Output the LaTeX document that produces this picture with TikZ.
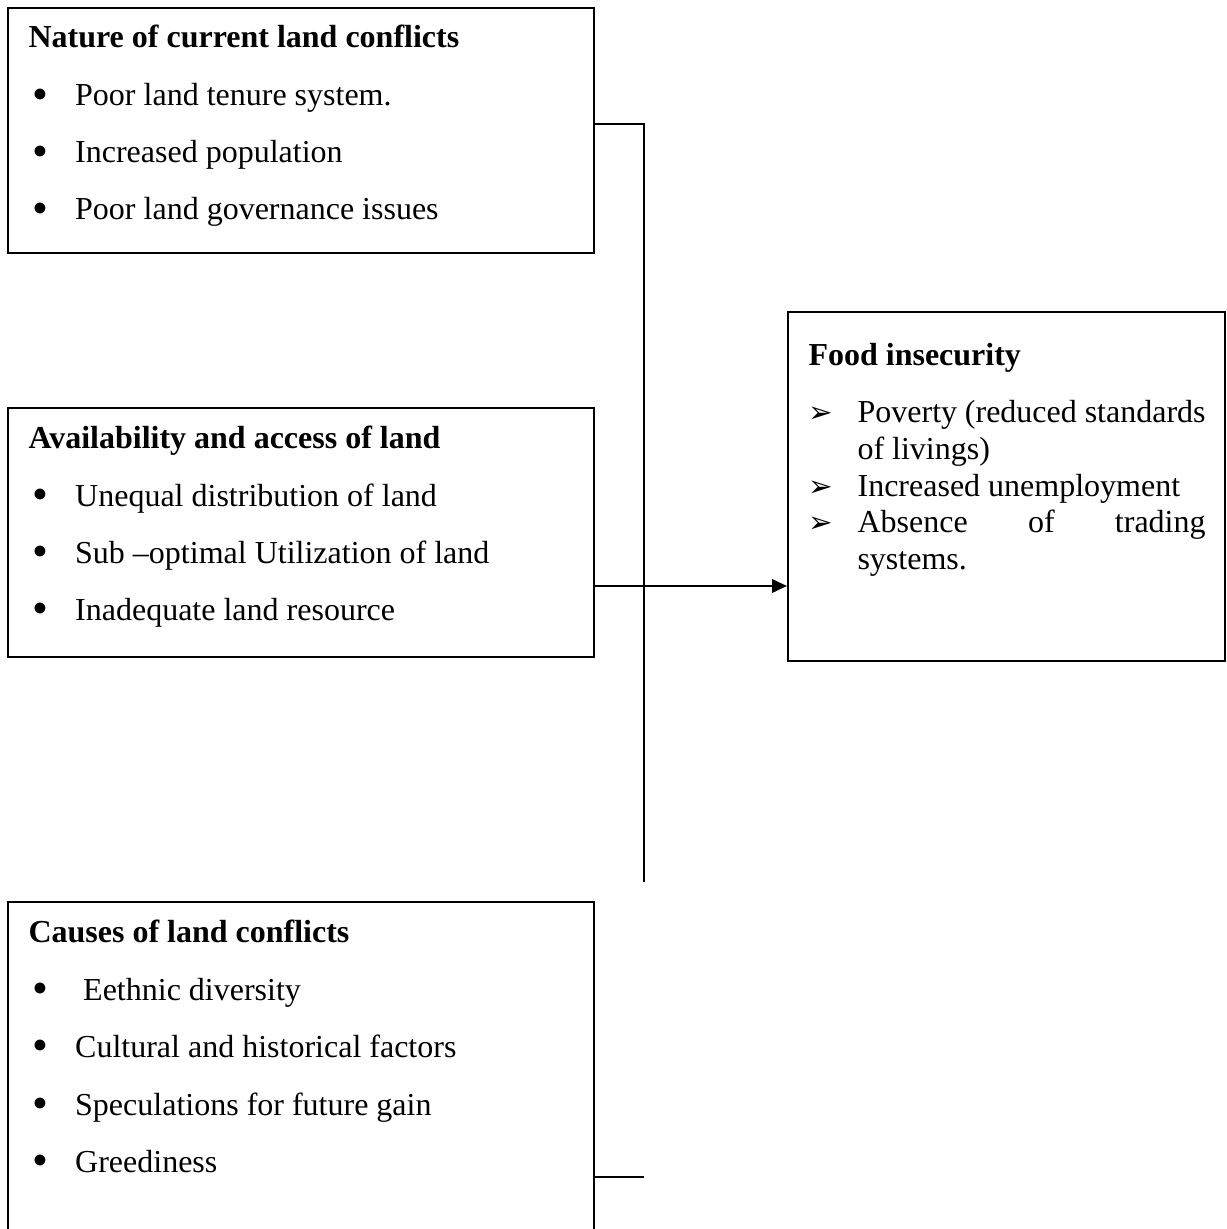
\documentclass[tikz,border=0pt]{standalone}
\usepackage{fontspec}
\setmainfont{Liberation Serif}
\newfontfamily\arrowfont{DejaVu Sans}
\usetikzlibrary{arrows.meta,positioning}

\newcommand{\dotitem}[1]{\makebox[16pt][l]{\raisebox{-1.2pt}{\fontsize{17}{17}\selectfont\textbullet}}#1}
\newcommand{\arritem}[1]{\makebox[18.4pt][l]{\arrowfont\fontsize{11}{11}\selectfont ➢}#1}

\begin{document}
\begin{tikzpicture}[
  x=0.375pt, y=-0.375pt,
  frame/.style={draw, line width=0.9pt, inner sep=0pt, anchor=north west},
  head/.style={font=\fontsize{12}{14}\selectfont\bfseries, anchor=base west, inner sep=0pt},
  entry/.style={font=\fontsize{12}{14}\selectfont, anchor=base west, inner sep=0pt},
  wire/.style={draw, line width=0.9pt}
]
  \useasboundingbox (0,0) rectangle (1226,1229);

  % boxes
  \node[frame, minimum width=219.75pt, minimum height=91.9pt]  (nature) at (7,7)     {};
  \node[frame, minimum width=219.75pt, minimum height=93.4pt]  (access) at (7,407)   {};
  \node[frame, minimum width=219.75pt, minimum height=125.6pt] (causes) at (7,901)   {};
  \node[frame, minimum width=163.9pt,  minimum height=130.9pt] (food)   at (787,311) {};

  % nature of current land conflicts
  \node[head]  (nature-h) at (28,48)  {Nature of current land conflicts};
  \node[entry] (nature-1) at (32,106) {\dotitem{Poor land tenure system.}};
  \node[entry] (nature-2) at (32,163) {\dotitem{Increased population}};
  \node[entry] (nature-3) at (32,220) {\dotitem{Poor land governance issues}};

  % availability and access
  \node[head]  (access-h) at (28,448) {Availability and access of land};
  \node[entry] (access-1) at (32,506) {\dotitem{Unequal distribution of land}};
  \node[entry] (access-2) at (32,563) {\dotitem{Sub --optimal Utilization of land}};
  \node[entry] (access-3) at (32,620) {\dotitem{Inadequate land resource}};

  % causes
  \node[head]  (causes-h) at (28,942)  {Causes of land conflicts};
  \node[entry] (causes-1) at (32,1000) {\dotitem{\ Eethnic diversity}};
  \node[entry] (causes-2) at (32,1057) {\dotitem{Cultural and historical factors}};
  \node[entry] (causes-3) at (32,1115) {\dotitem{Speculations for future gain}};
  \node[entry] (causes-4) at (32,1172) {\dotitem{Greediness}};

  % food insecurity
  \node[head]  (food-h)  at (808,366) {Food insecurity};
  \node[entry] (food-1)  at (808,423) {\arritem{\makebox[130.5pt][s]{Poverty (reduced standards}}};
  \node[entry] (food-1b) at (857,459) {of livings)};
  \node[entry] (food-2)  at (808,496) {\arritem{Increased unemployment}};
  \node[entry] (food-3)  at (808,532) {\arritem{\makebox[130.5pt][s]{Absence\hfill of\hfill trading}}};
  \node[entry] (food-3b) at (857,569) {systems.};

  % connectors
  \coordinate (jtop) at (644,124);
  \coordinate (jbot) at (644,882);
  \coordinate (jmid) at (644,586);
  \coordinate (stub) at (644,1177);

  \draw[wire] (nature.east |- jtop) -- (jtop) -- (jbot);
  \draw[wire, -{Triangle[length=5.6pt, width=5pt]}] (access.east |- jmid) -- (food.west |- jmid);
  \draw[wire] (causes.east |- stub) -- (stub);
\end{tikzpicture}
\end{document}
